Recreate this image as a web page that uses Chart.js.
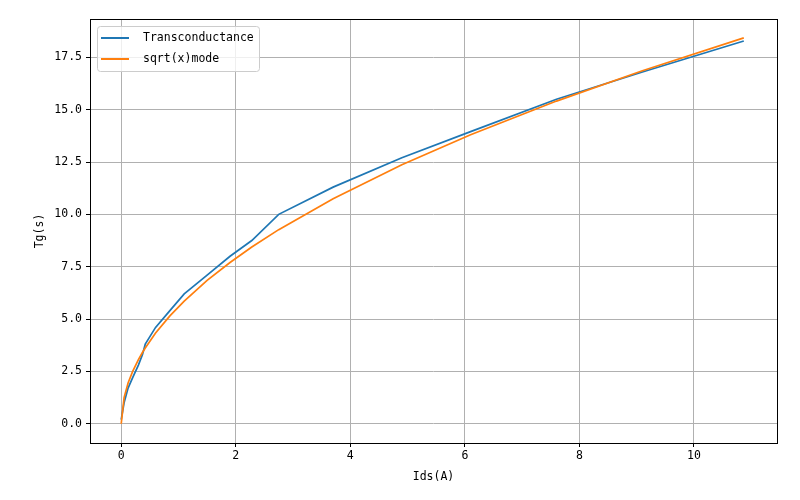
<!DOCTYPE html>
<html>
<head>
<meta charset="utf-8">
<script src="https://cdn.jsdelivr.net/npm/chart.js@4/dist/chart.umd.min.js"></script>
<style>
  html, body { margin: 0; padding: 0; background: #fff; }
  #wrap { width: 800px; height: 500px; position: relative; }
</style>
</head>
<body>
<div id="wrap"><canvas id="chart" width="800" height="500"></canvas></div>
<script>
const idsValues = [0, 0.05, 0.12, 0.2, 0.3, 0.37, 0.42, 0.6, 0.85, 1.1, 1.5, 1.9, 2.28, 2.75, 3.7, 4.9, 6.1, 7.6, 9.1, 10.87];
const transconductance = [0.2, 1.0, 1.7, 2.2, 2.8, 3.3, 3.8, 4.6, 5.4, 6.2, 7.1, 8.0, 8.75, 10.0, 11.3, 12.7, 13.95, 15.5, 16.8, 18.28];
const sqrtModel = [0.0, 1.25, 1.95, 2.5, 3.06, 3.4, 3.62, 4.33, 5.15, 5.86, 6.85, 7.7, 8.44, 9.27, 10.75, 12.37, 13.8, 15.41, 16.86, 18.43];

const xTicks = [0, 2, 4, 6, 8, 10];
const yTicks = [0, 2.5, 5, 7.5, 10, 12.5, 15, 17.5];
const seriesNames = ['Transconductance', 'sqrt(x)mode'];
const seriesColors = ['#1f77b4', '#ff7f0e'];

const FONT = '"DejaVu Sans Mono", "Liberation Mono", monospace';

const toPoints = (ys) => idsValues.map((x, i) => ({ x: x, y: ys[i] }));

// black frame round the plot area, like matplotlib spines
const framePlugin = {
  id: 'frame',
  afterDraw(chart) {
    const { ctx, chartArea: a } = chart;
    ctx.save();
    ctx.strokeStyle = '#000';
    ctx.lineWidth = 1;
    ctx.strokeRect(a.left + 0.5, a.top + 0.5, a.right - a.left, a.bottom - a.top);
    ctx.restore();
  }
};

// legend box in the upper left corner
const legendBox = {
  id: 'legendBox',
  afterDraw(chart) {
    const { ctx, chartArea: a } = chart;
    const x = a.left + 7, y = a.top + 7, w = 162, h = 45;
    ctx.save();
    ctx.beginPath();
    ctx.roundRect(x + 0.5, y + 0.5, w, h, 3);
    ctx.fillStyle = 'rgba(255,255,255,0.8)';
    ctx.fill();
    ctx.strokeStyle = '#cccccc';
    ctx.lineWidth = 1;
    ctx.stroke();
    ctx.font = '11.5px ' + FONT;
    ctx.textBaseline = 'middle';
    seriesNames.forEach((name, i) => {
      const ly = y + 12 + i * 21;
      ctx.strokeStyle = seriesColors[i];
      ctx.lineWidth = 2;
      ctx.beginPath();
      ctx.moveTo(x + 4, ly);
      ctx.lineTo(x + 32, ly);
      ctx.stroke();
      ctx.fillStyle = '#000';
      ctx.fillText(name, x + 46, ly);
    });
    ctx.restore();
  }
};

new Chart(document.getElementById('chart'), {
  type: 'scatter',
  data: {
    datasets: [
      {
        label: seriesNames[0],
        data: toPoints(transconductance),
        showLine: true,
        borderColor: seriesColors[0],
        backgroundColor: seriesColors[0],
        borderWidth: 1.7,
        pointRadius: 0,
        order: 1
      },
      {
        label: seriesNames[1],
        data: toPoints(sqrtModel),
        showLine: true,
        borderColor: seriesColors[1],
        backgroundColor: seriesColors[1],
        borderWidth: 1.7,
        pointRadius: 0,
        order: 0
      }
    ]
  },
  options: {
    responsive: false,
    animation: false,
    layout: { padding: { top: 19, right: 23, left: 0, bottom: 0 } },
    plugins: {
      legend: { display: false },
      tooltip: { enabled: false }
    },
    scales: {
      x: {
        type: 'linear',
        min: -0.545,
        max: 11.45,
        afterBuildTicks: (scale) => { scale.ticks = xTicks.map(v => ({ value: v })); },
        afterFit: (scale) => { scale.height = 57; },
        ticks: {
          color: '#000',
          font: { family: FONT, size: 11.5 },
          padding: 2,
          maxRotation: 0,
          callback: (v) => String(v)
        },
        grid: { color: '#b0b0b0', lineWidth: 1, tickColor: '#000', tickLength: 4 },
        border: { display: false },
        title: {
          display: true,
          text: 'Ids(A)',
          color: '#000',
          font: { family: FONT, size: 11.5 },
          padding: { top: 4, bottom: 16 }
        }
      },
      y: {
        type: 'linear',
        min: -0.92,
        max: 19.33,
        afterBuildTicks: (scale) => { scale.ticks = yTicks.map(v => ({ value: v })); },
        afterFit: (scale) => { scale.width = 90; },
        ticks: {
          color: '#000',
          font: { family: FONT, size: 11.5 },
          padding: 4,
          callback: (v) => v.toFixed(1)
        },
        grid: { color: '#b0b0b0', lineWidth: 1, tickColor: '#000', tickLength: 4 },
        border: { display: false },
        title: {
          display: true,
          text: 'Tg(s)',
          color: '#000',
          font: { family: FONT, size: 11.5 },
          padding: { top: 33 }
        }
      }
    }
  },
  plugins: [framePlugin, legendBox]
});
</script>
</body>
</html>
